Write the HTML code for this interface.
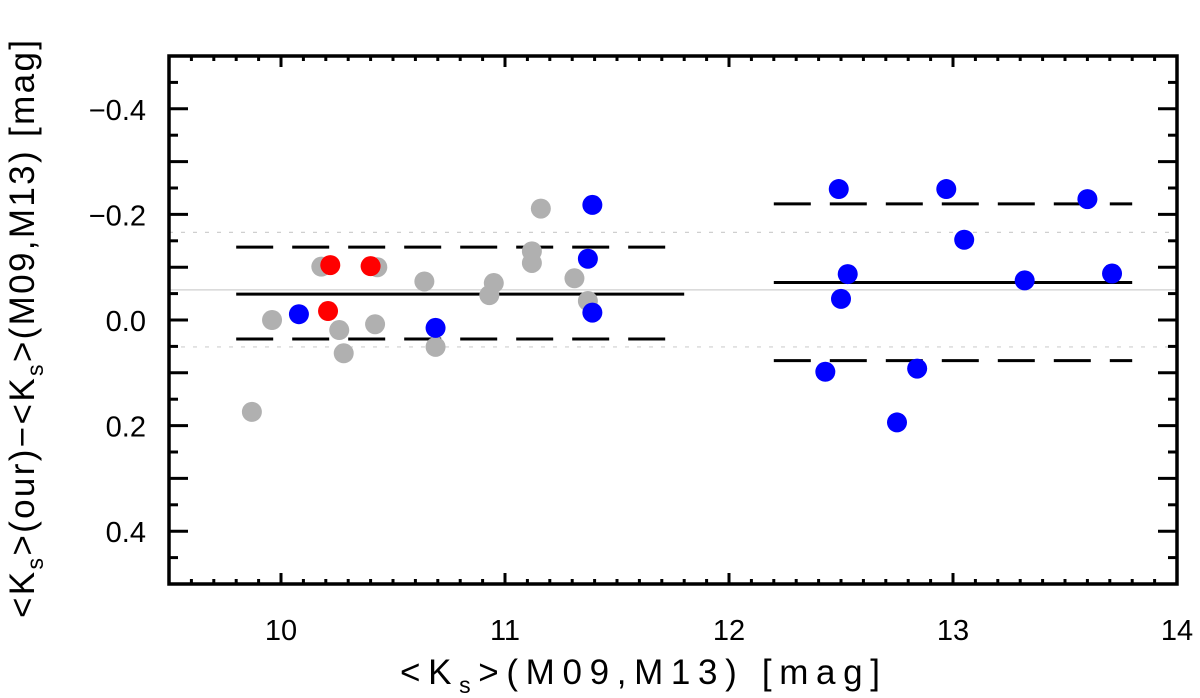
<!DOCTYPE html>
<html><head><meta charset="utf-8"><style>
html,body{margin:0;padding:0;background:#fff;}
svg{display:block;font-family:"Liberation Sans",sans-serif;}
</style></head><body>
<svg id="chart" width="1200" height="698" viewBox="0 0 1200 698" xmlns="http://www.w3.org/2000/svg">
<g id="grid"></g>
<g id="marks"></g>
<g id="axes"></g>
<text x="400" y="684" font-size="35" textLength="480" lengthAdjust="spacing">&lt;K<tspan font-size="23" dy="9">s</tspan><tspan dy="-9">&gt;(M09,M13)  [mag]</tspan></text>
<text transform="translate(34,618) rotate(-90)" font-size="35" textLength="578" lengthAdjust="spacing">&lt;K<tspan font-size="23" dy="9">s</tspan><tspan dy="-9">&gt;(our)−&lt;K</tspan><tspan font-size="23" dy="9">s</tspan><tspan dy="-9">&gt;(M09,M13)  [mag]</tspan></text>
</svg>
<script>
const grayX=[9.96,9.87,10.18,10.43,10.26,10.28,10.42,10.64,10.69,10.95,10.93,11.12,11.12,11.16,11.31,11.37];
const grayY=[0.0,0.174,-0.101,-0.100,0.019,0.063,0.008,-0.073,0.051,-0.070,-0.047,-0.130,-0.108,-0.211,-0.079,-0.036];
const redX=[10.22,10.40,10.21];
const redY=[-0.104,-0.102,-0.017];
const blueX=[10.08,10.69,11.39,11.37,11.39,12.49,12.97,13.60,13.05,12.53,12.50,13.32,13.71,12.43,12.84,12.75];
const blueY=[-0.011,0.015,-0.218,-0.116,-0.014,-0.248,-0.248,-0.229,-0.152,-0.087,-0.040,-0.075,-0.088,0.098,0.092,0.194];
const xTicks=[10,11,12,13,14];
const yTicks=[-0.4,-0.2,0.0,0.2,0.4];
const yTickLabels=["−0.4","−0.2","0.0","0.2","0.4"];
const leftStats=[-0.138,-0.049,0.036];
const rightStats=[-0.220,-0.071,0.077];
const leftRange=[9.80,11.80];
const rightRange=[12.20,13.80];
const globalMean=[-0.057];
const globalBand=[-0.166,0.051];

const X0=169,X1=1177,Y0=56,Y1=584;
const xMin=9.5,xMax=14,yMin=-0.5,yMax=0.5;
const sx=v=>X0+(v-xMin)/(xMax-xMin)*(X1-X0);
const sy=v=>Y0+(v-yMin)/(yMax-yMin)*(Y1-Y0);
const NS="http://www.w3.org/2000/svg";
function mk(tag,attrs,parent){const e=document.createElementNS(NS,tag);for(const k in attrs)e.setAttribute(k,attrs[k]);parent.appendChild(e);return e;}
const grid=document.getElementById('grid'),marks=document.getElementById('marks'),axes=document.getElementById('axes');

globalMean.forEach(v=>{const l=mk('line',{x1:X0,x2:X1,y1:sy(v),y2:sy(v),stroke:'#cfcfcf','stroke-width':1.2},grid);

});
globalBand.forEach(v=>{const l=mk('line',{x1:X0,x2:X1,y1:sy(v),y2:sy(v),stroke:'#cfcfcf','stroke-width':1.2,'stroke-dasharray':'4 8'},grid);

});

function stats(arr,rng,side){arr.forEach((v,i)=>{const solid=i===1;
const l=mk('line',{x1:sx(rng[0]),x2:sx(rng[1]),y1:sy(v),y2:sy(v),stroke:'#000','stroke-width':3},grid);
if(!solid)l.setAttribute('stroke-dasharray','37 19');

});}
stats(leftStats,leftRange,'left');
stats(rightStats,rightRange,'right');

function pts(xs,ys,col,name){xs.forEach((x,i)=>{const c=mk('circle',{cx:sx(x),cy:sy(ys[i]),r:10,fill:col},marks);

});}
pts(grayX,grayY,'#b0b0b0','gray-point');
pts(redX,redY,'#ff0000','red-point');
pts(blueX,blueY,'#0000ff','blue-point');

const frame=mk('rect',{x:X0,y:Y0,width:X1-X0,height:Y1-Y0,fill:'none',stroke:'#000','stroke-width':3.5},axes);


for(let k=0;k<=45;k++){const v=xMin+k*0.1;const major=k%10===5;const len=major?11:5;const x=sx(v);
mk('line',{x1:x,x2:x,y1:Y1,y2:Y1-len,stroke:'#000','stroke-width':3},axes);
mk('line',{x1:x,x2:x,y1:Y0,y2:Y0+len,stroke:'#000','stroke-width':3},axes);}
xTicks.forEach(v=>{const t=mk('text',{x:sx(v),y:640,'font-size':29,'text-anchor':'middle'},axes);t.textContent=v;

});
for(let k=0;k<=20;k++){const v=yMin+k*0.05;const major=Math.abs(Math.round(v*100))%10===0;const len=major?19:9;const y=sy(v);
mk('line',{x1:X0,x2:X0+len,y1:y,y2:y,stroke:'#000','stroke-width':3},axes);
mk('line',{x1:X1,x2:X1-len,y1:y,y2:y,stroke:'#000','stroke-width':3},axes);}
yTicks.forEach((v,i)=>{const t=mk('text',{x:146,y:sy(v)+11,'font-size':29,'text-anchor':'end'},axes);t.textContent=yTickLabels[i];

});
</script>
</body></html>
